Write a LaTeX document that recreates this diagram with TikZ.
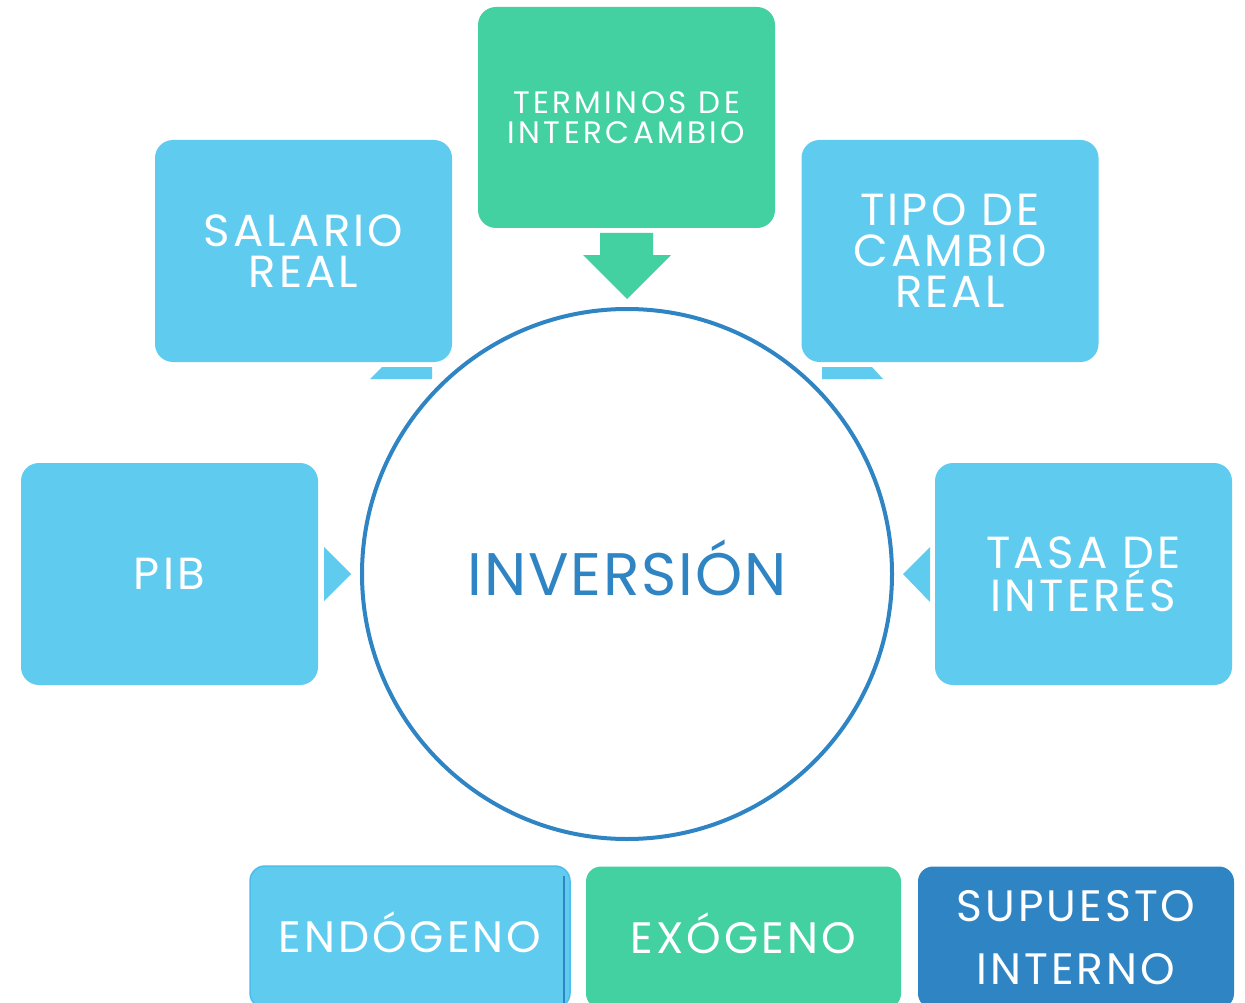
\documentclass[tikz,border=0pt]{standalone}
\usepackage{fontspec}
\setmainfont{Poppins}[LetterSpace=7]
\newfontfamily\wideterm{Poppins}[LetterSpace=11]
\newfontfamily\invfont{Poppins}[LetterSpace=3]
\definecolor{lb}{HTML}{5FCBEF}
\definecolor{gr}{HTML}{43D1A1}
\definecolor{db}{HTML}{2F84C4}
\definecolor{lbedge}{HTML}{4FBDE9}
\tikzset{
  box/.style={rectangle, fill=lb, rounded corners=18pt, text=white, align=center,
    inner sep=0pt, minimum width=297pt, minimum height=222pt,
    font=\fontsize{45}{41}\selectfont},
  legbox/.style={rectangle, rounded corners=15pt, text=white, align=center,
    inner sep=0pt, minimum height=142pt, font=\fontsize{44}{63}\selectfont},
}
\begin{document}
\begin{tikzpicture}[x=1pt,y=-1pt]
\clip (0,0) rectangle (1245,1003);
\fill[white] (0,0) rectangle (1245,1003);

% main boxes
\node[box] (salario) at (303.5,251) {SALARIO\\REAL};
\node[box, fill=gr, minimum height=221pt, font=\wideterm\fontsize{31}{30}\selectfont] (terminos) at (626.5,117.5) {TERMINOS DE\\INTERCAMBIO};
\node[box] (tipo) at (950,251) {TIPO DE\\CAMBIO\\REAL};
\node[box] (pib) at (169.5,574) {PIB};
\node[box] (tasa) at (1083.5,574) {TASA DE\\INTERÉS};

% central circle
\node[circle, draw=db, line width=4pt, minimum size=530pt, inner sep=0pt,
  text=db, font=\invfont\fontsize{60}{60}\selectfont, text height=42pt, text depth=0pt] (inv) at (627,574) {INVERSIÓN};

% pointers
\fill[gr] (600,233) -- (653,233) -- (653,255) -- (671,255) -- (627,299) -- (583,255) -- (600,255) -- cycle;
\fill[lb] (370,379) -- (382,367) -- (432,367) -- (432,379) -- cycle;
\fill[lb] (822,367) -- (872,367) -- (883,379) -- (822,379) -- cycle;
\fill[lb] (324,547) -- (351,574) -- (324,601) -- cycle;
\fill[lb] (930,547) -- (903,574) -- (930,602) -- cycle;

% legend
\node[legbox, fill=lb, draw=lbedge, line width=1.5pt, minimum width=320pt, text height=31pt, text depth=0pt] (endo) at (410,937) {ENDÓGENO};
\draw[db, line width=1.2pt] (564,876) -- (564,1003);
\node[legbox, fill=gr, minimum width=315pt, text height=31pt, text depth=0pt] (exo) at (743.5,937.5) {EXÓGENO};
\node[legbox, fill=db, minimum width=316pt] (sup) at (1076,937.5) {SUPUESTO\\INTERNO};
\end{tikzpicture}
\end{document}
